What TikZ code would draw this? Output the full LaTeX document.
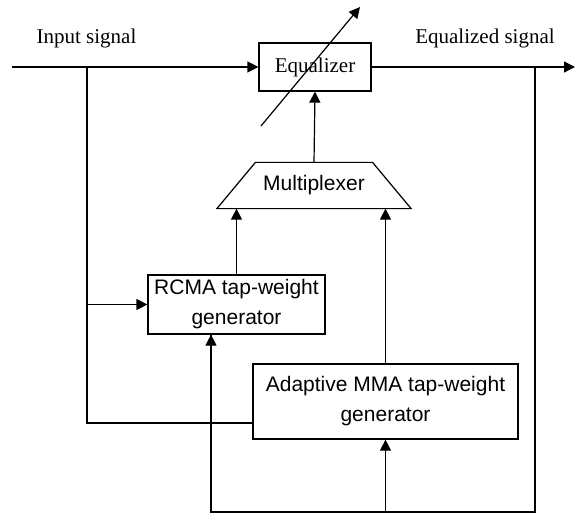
\documentclass[tikz,border=0pt]{standalone}
\usepackage{fontspec}
\setmainfont{Liberation Serif}
\newfontfamily\blocksans{Liberation Sans}
\usetikzlibrary{arrows.meta}
\begin{document}
\begin{tikzpicture}[x=1pt,y=-1pt,
  line width=1.2pt,
  tip/.style={-{Triangle[length=11pt,width=11pt]}},
  box/.style={draw, inner sep=0pt},
  serif/.style={font=\fontsize{21}{25}\selectfont},
  sanslabel/.style={font=\blocksans\fontsize{21}{30}\selectfont, align=center}]
  \useasboundingbox (0,0) rectangle (575,513);

  % blocks
  \node[box, serif, minimum width=112pt, minimum height=48pt] (eq) at (315,67) {Equalizer};
  \node[sanslabel, minimum width=193pt, minimum height=45pt, inner sep=0pt] (mux) at (314,185.5) {Multiplexer};
  \draw ([xshift=38.5pt]mux.north west) -- ([xshift=-38.5pt]mux.north east)
        -- (mux.south east) -- (mux.south west) -- cycle;
  \node[box, sanslabel, minimum width=177pt, minimum height=59pt] (rc) at (236.5,304.5)
        {RCMA tap-weight\\generator};
  \node[box, sanslabel, minimum width=265pt, minimum height=75pt] (ad) at (385.5,401.5)
        {Adaptive MMA tap-weight\\generator};

  % signal labels
  \node[serif, anchor=base] (inlbl) at (86.5,44) {Input signal};
  \node[serif, anchor=base] (outlbl) at (485,44) {Equalized signal};

  % signal path
  \coordinate (src) at (12,67);
  \coordinate (sink) at (575,67);
  \coordinate (tapin) at (87,67);
  \coordinate (tapout) at (535,67);
  \coordinate (fbbase) at (535,512);
  \draw[tip] (src) -- (eq.west);
  \draw[tip] (eq.east) -- (sink);

  % adjustable-equalizer arrow
  \coordinate (adjA) at (261,126);
  \coordinate (adjB) at (360,7);
  \draw[tip] (adjA) -- (adjB);

  % control paths
  \draw[tip] (mux.north) -- (eq.south);
  \draw[tip] (rc.north) -- (rc.north |- mux.south);
  \draw[tip] (ad.north) -- (ad.north |- mux.south);

  % input-signal feeds
  \draw (tapin) |- ([yshift=-21.5pt]ad.west);
  \draw[tip] (tapin |- rc.west) -- (rc.west);

  % equalized-signal feedback
  \draw (tapout) -- (fbbase) -| ([xshift=-25.5pt]rc.south);
  \draw[tip] ([xshift=-25.5pt]rc.south |- fbbase) -- ([xshift=-25.5pt]rc.south);
  \draw[tip] (ad.south |- fbbase) -- (ad.south);
\end{tikzpicture}
\end{document}
